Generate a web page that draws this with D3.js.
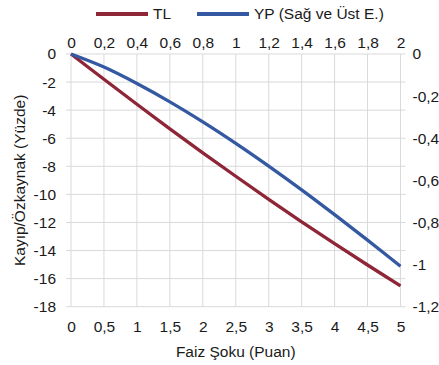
<!DOCTYPE html>
<html>
<head>
<meta charset="utf-8">
<script src="https://cdn.jsdelivr.net/npm/d3@7/dist/d3.min.js"></script>
<style>
  html, body { margin: 0; padding: 0; background: #fff; }
  svg { display: block; font-family: "Liberation Sans", Arial, sans-serif; }
</style>
</head>
<body>
<svg id="chart" width="439" height="365"></svg>
<script>
// Faiz şoku (puan) — TL on bottom/left axes, YP on top/right axes
const tlShock = [0, 0.5, 1, 1.5, 2, 2.5, 3, 3.5, 4, 4.5, 5];
const tlLoss  = [0, -1.8, -3.58, -5.33, -7.04, -8.71, -10.35, -11.95, -13.51, -15.03, -16.51];
const ypShock = [0, 0.2, 0.4, 0.6, 0.8, 1, 1.2, 1.4, 1.6, 1.8, 2];
const ypLoss  = [0, -0.062, -0.14, -0.227, -0.322, -0.424, -0.532, -0.645, -0.763, -0.884, -1.008];

const bottomTicks = [0, 0.5, 1, 1.5, 2, 2.5, 3, 3.5, 4, 4.5, 5];
const topTicks    = [0, 0.2, 0.4, 0.6, 0.8, 1, 1.2, 1.4, 1.6, 1.8, 2];
const leftTicks   = [0, -2, -4, -6, -8, -10, -12, -14, -16, -18];
const rightTicks  = [0, -0.2, -0.4, -0.6, -0.8, -1, -1.2];

const seriesNames = ["TL", "YP (Sağ ve Üst E.)"];
const seriesColors = ["#8E2637", "#3459A2"];
const xTitle = "Faiz Şoku (Puan)";
const yTitle = "Kayıp/Özkaynak (Yüzde)";

const svg = d3.select("#chart");
const plot = { left: 71, right: 400.5, top: 54, bottom: 306.7 };
const fontSize = 15.5;
const fmt = v => String(v).replace(".", ",");

const xB = d3.scaleLinear().domain([0, 5]).range([plot.left, plot.right]);
const xT = d3.scaleLinear().domain([0, 2]).range([plot.left, plot.right]);
const yL = d3.scaleLinear().domain([-18, 0]).range([plot.bottom, plot.top]);
const yR = d3.scaleLinear().domain([-1.2, 0]).range([plot.bottom, plot.top]);

const grid = "#D9D9D9";
// gridlines
svg.append("g").selectAll("line").data(bottomTicks).join("line")
  .attr("x1", d => xB(d)).attr("x2", d => xB(d))
  .attr("y1", plot.top).attr("y2", plot.bottom)
  .attr("stroke", grid).attr("stroke-width", 1);
svg.append("g").selectAll("line").data(leftTicks).join("line")
  .attr("x1", plot.left - 5).attr("x2", plot.right + 5)
  .attr("y1", d => yL(d)).attr("y2", d => yL(d))
  .attr("stroke", grid).attr("stroke-width", 1);

// axes (labels only; lines come from the grid)
function styleAxis(g) {
  g.select(".domain").remove();
  g.selectAll(".tick line").remove();
  g.selectAll("text").attr("fill", "#1a1a1a").style("font-size", fontSize + "px")
    .style("font-family", '"Liberation Sans", Arial, sans-serif');
}
svg.append("g").attr("transform", `translate(0,${plot.bottom})`)
  .call(d3.axisBottom(xB).tickValues(bottomTicks).tickFormat(fmt).tickSize(0).tickPadding(14))
  .call(styleAxis);
svg.append("g").attr("transform", `translate(0,${plot.top})`)
  .call(d3.axisTop(xT).tickValues(topTicks).tickFormat(fmt).tickSize(0).tickPadding(6))
  .call(styleAxis);
svg.append("g").attr("transform", `translate(${plot.left},0)`)
  .call(d3.axisLeft(yL).tickValues(leftTicks).tickFormat(fmt).tickSize(0).tickPadding(15))
  .call(styleAxis);
svg.append("g").attr("transform", `translate(${plot.right},0)`)
  .call(d3.axisRight(yR).tickValues(rightTicks).tickFormat(fmt).tickSize(0).tickPadding(12))
  .call(styleAxis);

// series lines
const tlData = tlShock.map((x, i) => [x, tlLoss[i]]);
const ypData = ypShock.map((x, i) => [x, ypLoss[i]]);
svg.append("path").datum(tlData)
  .attr("d", d3.line().x(d => xB(d[0])).y(d => yL(d[1])).curve(d3.curveCatmullRom))
  .attr("fill", "none").attr("stroke", seriesColors[0]).attr("stroke-width", 3.3);
svg.append("path").datum(ypData)
  .attr("d", d3.line().x(d => xT(d[0])).y(d => yR(d[1])).curve(d3.curveCatmullRom))
  .attr("fill", "none").attr("stroke", seriesColors[1]).attr("stroke-width", 3.3);

// legend
const legendItems = [
  { x: 96, name: seriesNames[0], color: seriesColors[0] },
  { x: 197, name: seriesNames[1], color: seriesColors[1] }
];
const lg = svg.append("g").selectAll("g").data(legendItems).join("g")
  .attr("transform", d => `translate(${d.x},14)`);
lg.append("line").attr("x1", 0).attr("x2", 52).attr("y1", 0).attr("y2", 0)
  .attr("stroke", d => d.color).attr("stroke-width", 4);
lg.append("text").attr("x", 57).attr("y", 0).attr("dy", "0.35em")
  .style("font-size", fontSize + "px").attr("fill", "#1a1a1a").text(d => d.name);

// axis titles
svg.append("text").attr("x", (plot.left + plot.right) / 2).attr("y", 352)
  .attr("text-anchor", "middle").attr("dy", "0.35em")
  .style("font-size", fontSize + "px").attr("fill", "#1a1a1a").text(xTitle);
svg.append("text")
  .attr("transform", `translate(20,${(plot.top + plot.bottom) / 2}) rotate(-90)`)
  .attr("text-anchor", "middle").attr("dy", "0.35em")
  .style("font-size", fontSize + "px").attr("fill", "#1a1a1a").text(yTitle);
</script>
</body>
</html>
